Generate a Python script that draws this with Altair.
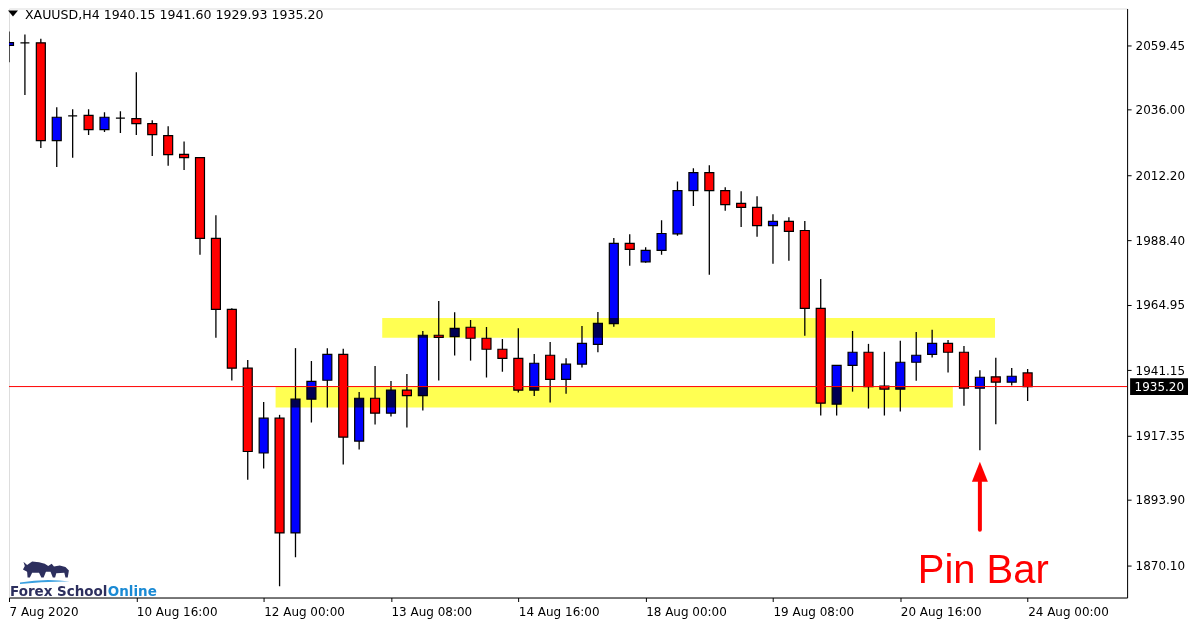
import json
import altair as alt
import pandas as pd

# ---------------- data ----------------
opens = [2059.45, 2060.4, 2060.4, 2024.8, 2033.8, 2034.0, 2028.8, 2033.0, 2032.8, 2031.0,
         2026.6, 2019.8, 2018.6, 1989.2, 1963.3, 1941.9, 1911.0, 1923.7, 1881.9, 1930.6,
         1937.5, 1946.95, 1915.35, 1930.95, 1925.5, 1933.9, 1931.9, 1953.9, 1953.4, 1956.8,
         1952.8, 1948.8, 1945.5, 1933.9, 1946.6, 1937.85, 1943.35, 1950.6, 1958.1, 1987.35,
         1980.65, 1984.8, 1990.85, 2006.6, 2013.15, 2006.6, 2001.9, 2000.45, 1993.85, 1995.35,
         1992.05, 1963.7, 1928.8, 1942.95, 1947.7, 1935.35, 1934.25, 1944.05, 1946.95, 1950.95,
         1947.7, 1934.6, 1938.75, 1936.8, 1940.15]
highs = [2064.5, 2063.4, 2061.9, 2036.9, 2036.2, 2036.2, 2035.1, 2035.5, 2049.7, 2032.2,
         2030.0, 2024.5, 2018.8, 1997.6, 1963.7, 1944.9, 1929.6, 1924.9, 1949.2, 1944.5,
         1949.2, 1948.95, 1933.2, 1942.7, 1937.25, 1939.8, 1955.45, 1966.35, 1962.25, 1959.45,
         1956.9, 1952.5, 1956.45, 1947.1, 1951.45, 1945.5, 1957.25, 1962.35, 1989.3, 1990.7,
         1985.9, 1995.8, 2009.9, 2014.7, 2015.8, 2007.8, 2006.35, 2004.55, 1998.0, 1996.9,
         1995.5, 1974.35, 1943.0, 1955.45, 1950.75, 1947.85, 1951.85, 1955.05, 1955.85, 1952.15,
         1950.0, 1941.15, 1945.65, 1942.0, 1941.60]
lows = [2053.3, 2041.4, 2022.1, 2015.2, 2018.5, 2026.8, 2027.9, 2027.6, 2026.8, 2019.2,
        2015.6, 2014.1, 1983.2, 1953.0, 1937.4, 1901.3, 1905.4, 1862.45, 1873.0, 1922.1,
        1927.6, 1906.8, 1912.3, 1921.4, 1924.3, 1920.3, 1926.5, 1937.4, 1946.5, 1944.65,
        1938.5, 1940.6, 1933.0, 1931.8, 1929.4, 1932.6, 1942.1, 1947.7, 1957.0, 1979.2,
        1980.3, 1983.2, 1990.1, 2001.0, 1975.9, 1999.2, 1993.35, 1989.75, 1979.95, 1981.0,
        1953.75, 1924.65, 1924.65, 1933.35, 1927.2, 1924.65, 1926.1, 1937.35, 1945.75, 1940.3,
        1928.25, 1912.0, 1921.5, 1935.55, 1929.93]
closes = [2060.5, 2060.4, 2024.8, 2033.3, 2033.8, 2028.8, 2033.3, 2033.0, 2031.0, 2027.0,
          2019.7, 2018.6, 1989.2, 1963.3, 1941.9, 1911.55, 1923.7, 1881.9, 1930.6, 1937.1,
          1946.95, 1916.8, 1930.95, 1925.5, 1933.9, 1931.9, 1953.9, 1953.15, 1956.4, 1952.8,
          1948.8, 1945.5, 1933.9, 1943.7, 1937.85, 1943.35, 1950.95, 1958.25, 1987.35, 1985.15,
          1984.8, 1990.95, 2006.6, 2013.15, 2006.6, 2001.5, 2000.45, 1993.85, 1995.35, 1991.7,
          1963.7, 1929.15, 1942.95, 1947.7, 1935.2, 1934.25, 1944.05, 1946.6, 1950.95, 1947.7,
          1934.6, 1938.6, 1936.8, 1938.95, 1935.20]

price_ticks = [2059.45, 2036.00, 2012.20, 1988.40, 1964.95, 1941.15, 1917.35, 1893.90, 1870.10]
time_tick_idx = [0, 8, 16, 24, 32, 40, 48, 56, 64]
time_tick_labels = ["7 Aug 2020", "10 Aug 16:00", "12 Aug 00:00", "13 Aug 08:00",
                    "14 Aug 16:00", "18 Aug 00:00", "19 Aug 08:00", "20 Aug 16:00",
                    "24 Aug 00:00"]

current_price = 1935.20
price_label_half = 3.04

# support / resistance zones (bar-index and price units)
zone_x1 = [23.45, 16.75]
zone_x2 = [61.95, 59.3]
zone_top = [1960.2, 1935.1]
zone_bot = [1953.0, 1927.55]

# pin bar annotation
pin_idx = 61
arrow_low = 1883.05
arrow_high = 1900.5
arrow_head = 1904.2
pin_text_idx = 57.1
pin_text_price = 1863.8

# ---------------- tables ----------------
df = pd.DataFrame({"i": list(range(len(opens))), "open": opens, "high": highs,
                   "low": lows, "close": closes})
df["dir"] = ["up" if c >= o else "down" for o, c in zip(opens, closes)]

zones = pd.DataFrame({"x1": zone_x1, "x2": zone_x2, "y1": zone_top, "y2": zone_bot})
cur = pd.DataFrame({"price": [current_price], "top": [current_price + price_label_half],
                    "bot": [current_price - price_label_half],
                    "label": [f"{current_price:.2f}"]})
arrow = pd.DataFrame({"i": [pin_idx], "lo": [arrow_low], "hi": [arrow_high], "head": [arrow_head]})
pintxt = pd.DataFrame({"i": [pin_text_idx], "p": [pin_text_price], "t": ["Pin Bar"]})
header = pd.DataFrame({"t": [f"XAUUSD,H4  {opens[-1]:.2f} {highs[-1]:.2f} {lows[-1]:.2f} {closes[-1]:.2f}"]})

W, H = 1120, 590
xs = alt.Scale(domain=[0.0, 70.25], nice=False, zero=False, padding=0)
ys = alt.Scale(domain=[1858.36, 2072.9], nice=False, zero=False)

FONT = "DejaVu Sans"

xaxis = alt.Axis(values=time_tick_idx,
                 labelExpr=f"{json.dumps(time_tick_labels)}[indexof({json.dumps(time_tick_idx)}, datum.value)]",
                 labelAlign="left", labelPadding=5, tickSize=4, labelFlush=False,
                 labelOverlap=False, grid=False, title=None, labelFont=FONT, labelFontSize=12,
                 labelColor="black", tickColor="black", domainColor="black")
yaxis = alt.Axis(orient="right", values=price_ticks, format=".2f", labelFont=FONT,
                 labelFontSize=12, labelColor="black", tickColor="black", tickSize=4,
                 domainColor="black", grid=False, title=None, labelOverlap=False,
                 labelPadding=4, labelFlush=False)

wicks = alt.Chart(df).mark_rule(color="black", strokeWidth=1.3, clip=True).encode(
    x=alt.X("i:Q", scale=xs, axis=xaxis),
    y=alt.Y("low:Q", scale=ys, axis=yaxis),
    y2="high:Q",
)
bodies = alt.Chart(df).mark_bar(size=9, stroke="black", strokeWidth=1.2, clip=True).encode(
    x=alt.X("i:Q", scale=xs, title=None),
    y=alt.Y("open:Q", scale=ys, title=None),
    y2="close:Q",
    color=alt.Color("dir:N", scale=alt.Scale(domain=["up", "down"], range=["#0000FF", "#FF0000"]),
                    legend=None),
)
price_line = alt.Chart(cur).mark_rule(color="#FF0000", strokeWidth=1).encode(
    y=alt.Y("price:Q", scale=ys, title=None))
zone_rects = alt.Chart(zones).mark_rect(color="#FFFF00", opacity=0.68, blend="multiply").encode(
    x=alt.X("x1:Q", scale=xs, title=None), x2="x2:Q",
    y=alt.Y("y1:Q", scale=ys, title=None), y2="y2:Q")
price_box = alt.Chart(cur).mark_rect(color="black").encode(
    x=alt.value(1123), x2=alt.value(1181),
    y=alt.Y("top:Q", scale=ys, title=None), y2="bot:Q")
price_txt = alt.Chart(cur).mark_text(align="left", baseline="middle", color="white",
                                     font=FONT, fontSize=12).encode(
    x=alt.value(1127.5), y=alt.Y("price:Q", scale=ys, title=None), text="label:N")

arrow_shaft = alt.Chart(arrow).mark_rule(color="#FF0000", strokeWidth=4, strokeCap="round").encode(
    x=alt.X("i:Q", scale=xs, title=None), y=alt.Y("lo:Q", scale=ys, title=None), y2="hi:Q")
arrow_tip = alt.Chart(arrow).mark_point(shape="M0,-1.25L1,1.25L-1,1.25Z", filled=True,
                                        color="#FF0000", size=256, opacity=1).encode(
    x=alt.X("i:Q", scale=xs, title=None), y=alt.Y("head:Q", scale=ys, title=None))
pin_label = alt.Chart(pintxt).mark_text(align="left", baseline="alphabetic", color="#FF0000",
                                        font="Liberation Sans", fontSize=40).encode(
    x=alt.X("i:Q", scale=xs, title=None), y=alt.Y("p:Q", scale=ys, title=None), text="t:N")

head_tri = alt.Chart(header).mark_point(shape="M-1,-0.6L1,-0.6L0,0.6Z", filled=True,
                                        color="black", size=100, opacity=1).encode(
    x=alt.value(4), y=alt.value(5))
head_txt = alt.Chart(header).mark_text(align="left", baseline="middle", color="black",
                                       font=FONT, fontSize=12.6).encode(
    x=alt.value(16), y=alt.value(6), text="t:N")

logo_df = pd.DataFrame({"a": ["Forex School"], "b": ["Online"]})
logo_a = alt.Chart(logo_df).mark_text(align="left", baseline="alphabetic", color="#2d2f5e",
                                      font=FONT, fontSize=13.5, fontWeight="bold").encode(
    x=alt.value(1), y=alt.value(588), text="a:N")
logo_b = alt.Chart(logo_df).mark_text(align="left", baseline="alphabetic", color="#1a8ad4",
                                      font=FONT, fontSize=13.5, fontWeight="bold").encode(
    x=alt.value(99), y=alt.value(588), text="b:N")
logo_beasts = alt.Chart(logo_df).mark_point(
    shape=("M-1,-0.05L-0.92,-0.2L-0.98,-0.38L-0.82,-0.24L-0.6,-0.4L-0.3,-0.36L-0.05,-0.3"
           "L0.1,-0.2L0.25,-0.3L0.35,-0.18L0.6,-0.22L0.85,-0.15L1,0L0.95,0.3L0.85,0.3L0.8,0.1"
           "L0.45,0.12L0.4,0.3L0.3,0.3L0.2,0.05L0,0.05L-0.1,0.3L-0.2,0.3L-0.3,0.1L-0.6,0.1"
           "L-0.7,0.3L-0.8,0.3L-0.82,0.05Z"),
    filled=True, color="#2d2f5e", size=2116, opacity=1).encode(x=alt.value(37), y=alt.value(563))
logo_wave = alt.Chart(logo_df).mark_point(
    shape="M-1,0.04Q0,-0.14 1,0.0Q0,-0.02 -1,0.1Z",
    filled=True, color="#3aa0e0", size=2500, opacity=1).encode(x=alt.value(36), y=alt.value(574))

chart = alt.layer(
    wicks, bodies, price_line, zone_rects, price_box, price_txt,
    arrow_shaft, arrow_tip, pin_label, head_tri, head_txt,
    logo_beasts, logo_wave, logo_a, logo_b,
).properties(
    width=W, height=H,
    padding={"left": 0, "top": 0, "right": 4, "bottom": 4},
).configure_view(stroke="black", strokeWidth=1).configure(background="white")

chart.save("out.html", embed_options={"renderer": "svg", "actions": False})
